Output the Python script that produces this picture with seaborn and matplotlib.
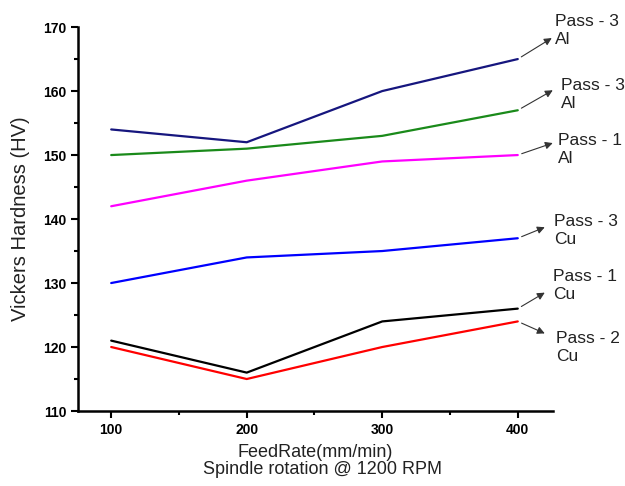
import pandas as pd
import numpy as np
import matplotlib
matplotlib.use("Agg")
import matplotlib.pyplot as plt
from matplotlib.ticker import MultipleLocator
import seaborn as sns

# data
feed_rate = [100, 200, 300, 400]
pass3_al_a = [154, 152, 160, 165]
pass3_al_b = [150, 151, 153, 157]
pass1_al = [142, 146, 149, 150]
pass3_cu = [130, 134, 135, 137]
pass1_cu = [121, 116, 124, 126]
pass2_cu = [120, 115, 120, 124]

series_names = ["Pass - 3\nAl", "Pass - 3\nAl ", "Pass - 1\nAl",
                "Pass - 3\nCu", "Pass - 1\nCu", "Pass - 2\nCu"]
series_values = [pass3_al_a, pass3_al_b, pass1_al, pass3_cu, pass1_cu, pass2_cu]
colors = ["#16167e", "#1a8a1a", "#ff00ff", "#0000ff", "#000000", "#ff0000"]

df = pd.DataFrame({
    "feed": feed_rate * len(series_names),
    "hv": np.concatenate(series_values),
    "series": np.repeat(series_names, len(feed_rate)),
})

sns.set_style("ticks", {"text.color": "black", "axes.labelcolor": "black",
                        "xtick.color": "black", "ytick.color": "black",
                        "axes.edgecolor": "black"})
plt.rcParams["font.family"] = ["Liberation Sans", "DejaVu Sans"]

fig = plt.figure(figsize=(6.25, 4.86), dpi=100)
ax = fig.add_axes([0.1248, 0.1543, 0.76, 0.79])

sns.lineplot(data=df, x="feed", y="hv", hue="series", palette=colors,
             hue_order=series_names, linewidth=1.6, legend=False, ax=ax)

ax.set_xlim(75.5, 426)
ax.set_ylim(110, 170)
ax.xaxis.set_major_locator(MultipleLocator(100))
ax.xaxis.set_minor_locator(MultipleLocator(50))
ax.yaxis.set_major_locator(MultipleLocator(10))
ax.yaxis.set_minor_locator(MultipleLocator(5))
ax.tick_params(which="major", direction="out", length=5, width=1.5, labelsize=10)
ax.tick_params(which="minor", direction="out", length=3, width=1.5)
for lab in ax.get_xticklabels() + ax.get_yticklabels():
    lab.set_fontweight("bold")
sns.despine(ax=ax)
for sp in ["left", "bottom"]:
    ax.spines[sp].set_linewidth(1.8)

ax.set_xlabel("FeedRate(mm/min)\n   Spindle rotation @ 1200 RPM", fontsize=13,
              linespacing=1.0, labelpad=5, color="#222222")
ax.set_ylabel("Vickers Hardness (HV)", fontsize=14.5, labelpad=9, color="#222222")

# offsets in pixels (x right, y down) from each line end
px = 0.72
tip_off = [(34, -21), (35, -20), (35, -12), (27, -11), (27, -16), (27, 12)]
text_off = [(37, -29), (43, -16), (40, -6), (36, -8), (35, -23), (38, 26)]
for vals, aoff, toff, name in zip(series_values, tip_off, text_off, series_names):
    end = (feed_rate[-1], vals[-1])
    ax.annotate("", xy=end, xycoords="data",
                xytext=(aoff[0] * px, -aoff[1] * px), textcoords="offset points",
                arrowprops=dict(arrowstyle="<|-", color="#333333", lw=0.8,
                                shrinkA=0, shrinkB=3, mutation_scale=11),
                annotation_clip=False)
    ax.annotate(name.strip(), xy=end, xycoords="data",
                xytext=(toff[0] * px, -toff[1] * px), textcoords="offset points",
                fontsize=12.5, ha="left", va="center", linespacing=1.25,
                color="#222222", annotation_clip=False)

fig.savefig("out.png", dpi=100)
